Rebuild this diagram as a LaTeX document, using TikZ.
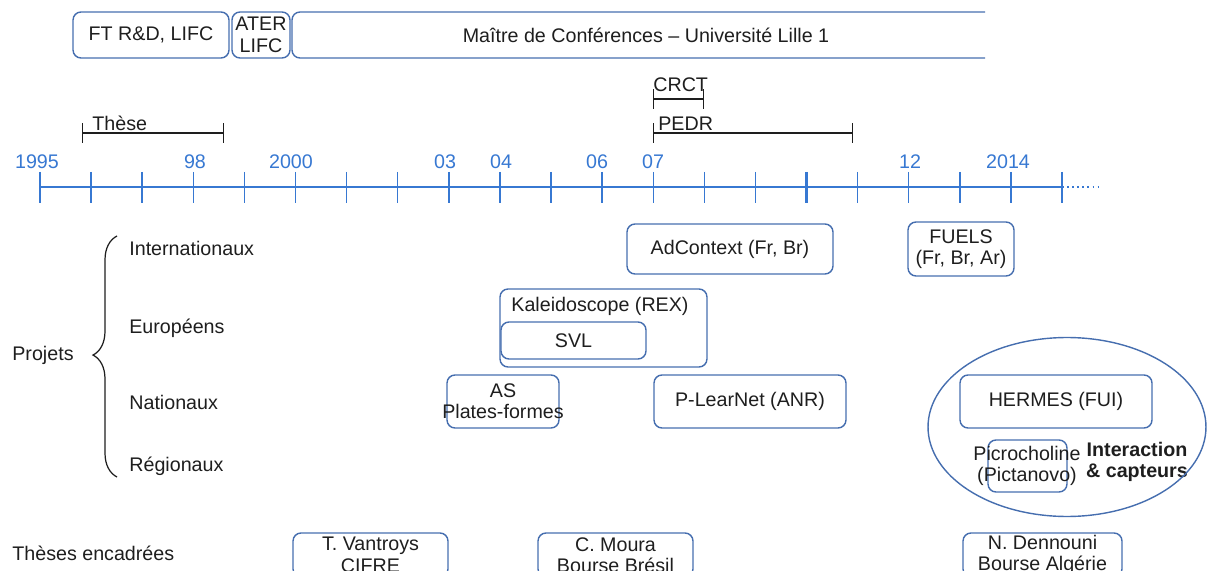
\documentclass[tikz,border=0pt]{standalone}
\usepackage{fontspec}
\setmainfont{Liberation Sans}
\usetikzlibrary{arrows.meta,decorations.pathreplacing,shapes.geometric}
\definecolor{axisblue}{RGB}{55,120,210}
\definecolor{boxblue}{RGB}{70,110,175}
\definecolor{inkgray}{RGB}{30,30,30}
\tikzset{
  pbox/.style={draw=boxblue, line width=0.8pt, rounded corners=0.16cm, inner sep=0pt, align=center, minimum height=1.06cm},
  period/.style={draw=inkgray, line width=0.7pt, {Bar[width=0.4cm]}-{Bar[width=0.4cm]}},
  cat/.style={anchor=west, inner sep=0pt},
  year/.style={text=axisblue, inner sep=0pt},
}
\begin{document}
\begin{tikzpicture}[x=0.02cm, y=-0.02cm, font=\fontsize{11.2}{12.2}\selectfont, text=inkgray]
\useasboundingbox (0,0) rectangle (1208,571);
\clip (0,0) rectangle (1208,571);
% postes
\node[pbox, minimum width=3.12cm, minimum height=0.92cm] (ftrd) at (151,35) {FT R\&D, LIFC};
\node[pbox, minimum width=1.16cm, minimum height=0.92cm] (ater) at (261,35) {ATER\\LIFC};
\draw[boxblue, line width=0.8pt, rounded corners=0.16cm] (985,12) -- (292,12) -- (292,58) -- (985,58);
\node (mcf) at (646,35) {Maître de Conférences -- Université Lille 1};
% periodes
\coordinate (these-a) at (82,133);
\coordinate (these-b) at (224,133);
\coordinate (crct-a) at (653,99);
\coordinate (crct-b) at (704,99);
\coordinate (pedr-a) at (653,133);
\coordinate (pedr-b) at (853,133);
\draw[period] (these-a) -- (these-b);
\draw[period] (crct-a) -- (crct-b);
\draw[period] (pedr-a) -- (pedr-b);
\node[anchor=base west, inner sep=0pt] (these) at (92,131) {Thèse};
\node[anchor=base west, inner sep=0pt] (crct) at (653,92) {CRCT};
\node[anchor=base west, inner sep=0pt] (pedr) at (658,131) {PEDR};
% axe du temps
\coordinate (axis-start) at (40,187);
\coordinate (axis-end) at (1062,187);
\coordinate (axis-more) at (1100,187);
\draw[axisblue, line width=0.9pt] (axis-start) -- (axis-end);
\draw[axisblue, line width=0.9pt, dotted] (axis-end) -- (axis-more);
\foreach \i in {0,...,20}
  \draw[axisblue, line width=0.8pt] ({40+51.1*\i},172) -- ({40+51.1*\i},203);
\draw[axisblue, line width=1.5pt] (806.5,172) -- (806.5,203);
\node[year] (y1995) at (37,162) {1995};
\node[year] (y98) at (195,162) {98};
\node[year] (y2000) at (291,162) {2000};
\node[year] (y03) at (445,162) {03};
\node[year] (y04) at (501,162) {04};
\node[year] (y06) at (597,162) {06};
\node[year] (y07) at (653,162) {07};
\node[year] (y12) at (910,162) {12};
\node[year] (y2014) at (1008,162) {2014};
% categories
\node[cat] (projets) at (12,355) {Projets};
\draw[inkgray, line width=0.7pt, decorate, decoration={brace, amplitude=0.48cm, aspect=0.506}] (117,477) -- (117,236);
\node[cat] (inter) at (129,248) {Internationaux};
\node[cat] (euro) at (129,328) {Européens};
\node[cat] (nat) at (129,402) {Nationaux};
\node[cat] (reg) at (129,466) {Régionaux};
\node[cat] (theses) at (12,553) {Thèses encadrées};
% projets
\node[pbox, minimum width=4.12cm, minimum height=1cm] (adcontext) at (730,249) {AdContext (Fr, Br)};
\node[pbox, minimum width=2.12cm, minimum height=1.08cm] (fuels) at (961,249) {FUELS\\(Fr, Br, Ar)};
\node[pbox, minimum width=4.14cm, minimum height=1.56cm] (kaleido) at (603.5,328) {};
\node (kaleido-txt) at (600,306) {Kaleidoscope (REX)};
\node[pbox, minimum width=2.9cm, minimum height=0.74cm] (svl) at (573.5,340.5) {SVL};
\node[pbox, minimum width=2.24cm] (asplat) at (503,401.5) {};
\node[align=center, inner sep=0pt] (asplat-txt) at (503,401.5) {AS\\Plates-formes};
\node[pbox, minimum width=3.84cm] (plearnet) at (750,401.5) {P-LearNet (ANR)};
\node[pbox, minimum width=3.84cm] (hermes) at (1056,401.5) {HERMES (FUI)};
\node[pbox, minimum width=1.58cm, minimum height=1.04cm] (picro) at (1027.5,466) {};
\node[align=center, inner sep=0pt] (picro-txt) at (1027,466) {Picrocholine\\(Pictanovo)};
\node[align=center, font=\fontsize{11.2}{12.2}\selectfont\bfseries, inner sep=0pt] (interaction) at (1137,462) {Interaction\\\& capteurs};
\node[draw=boxblue, line width=0.8pt, ellipse, minimum width=5.56cm, minimum height=3.58cm, inner sep=0pt] (hermesgrp) at (1067,427) {};
% theses encadrees
\node[pbox, minimum width=3.1cm, minimum height=0.88cm] (vantroys) at (370.5,555) {T. Vantroys\\CIFRE};
\node[pbox, minimum width=3.1cm, minimum height=0.88cm] (moura) at (615.5,555) {C. Moura\\Bourse Brésil};
\node[pbox, minimum width=3.18cm, minimum height=0.88cm] (dennouni) at (1042.5,555) {N. Dennouni\\Bourse Algérie};
\end{tikzpicture}
\end{document}
